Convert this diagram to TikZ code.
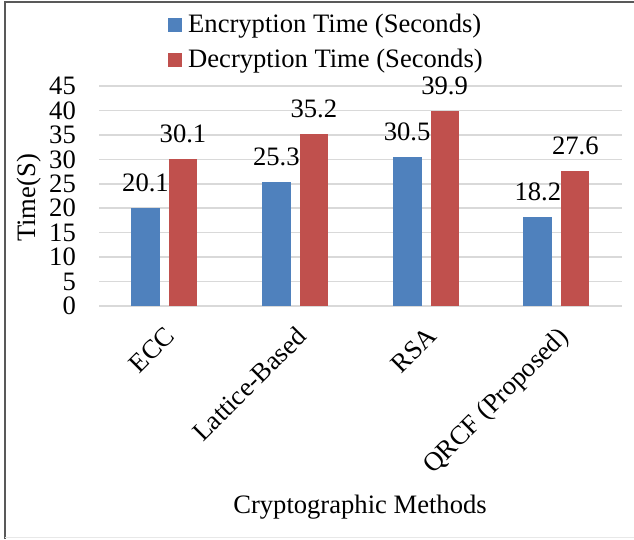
\documentclass[tikz,border=0pt]{standalone}
\usepackage{fontspec}
\setmainfont{Liberation Serif}
\definecolor{encblue}{HTML}{4F81BD}
\definecolor{decred}{HTML}{C0504D}
\definecolor{gridgray}{HTML}{D9D9D9}
\definecolor{framegray}{HTML}{595959}
\begin{document}
\begin{tikzpicture}[x=1pt,y=1pt,
    every node/.style={font=\fontsize{26.6}{31}\selectfont, inner sep=0pt},
    gridline/.style={draw=gridgray, line width=1.6pt},
    encbar/.style={fill=encblue},
    decbar/.style={fill=decred},
    ticklabel/.style={anchor=east},
    vallabel/.style={anchor=base},
    catlabel/.style={anchor=north east, rotate=45},
    legendkey/.style={minimum size=14pt, inner sep=0pt}]
  \useasboundingbox (0,0) rectangle (634,539);
  % outer frame
  \draw[framegray, line width=1.6pt] (5,0) -- (5,537) -- (634,537);
  \draw[gridgray!60, line width=1pt] (5,1.5) -- (634,1.5);
  % value axis: 0 at y=233, 4.889pt per second
  \def\yz{233}
  \def\ys{4.889}
  \foreach \v in {0,5,...,45} {
    \draw[gridline] (99,\yz+\v*\ys) -- (622,\yz+\v*\ys);
    \node[ticklabel] (tick\v) at (76,\yz+\v*\ys) {\v};
  }
  % bars and value labels
  \foreach \i/\e/\d/\name in {0/20.1/30.1/ECC, 1/25.3/35.2/Lattice-Based, 2/30.5/39.9/RSA, 3/18.2/27.6/QRCF (Proposed)} {
    \pgfmathsetmacro{\c}{164+130.8*\i}
    \fill[encbar] (\c-33,\yz) rectangle (\c-4,\yz+\e*\ys);
    \fill[decbar] (\c+5,\yz) rectangle (\c+33,\yz+\d*\ys);
    \node[vallabel] (enc\i) at (\c-18.5,\yz+\e*\ys+16.7) {\e};
    \node[vallabel] (dec\i) at (\c+19,\yz+\d*\ys+16.7) {\d};
    \node[catlabel] (cat\i) at (\c,214) {\name};
  }
  % axis titles
  \node[rotate=90] (ytitle) at (29,341) {Time(S)};
  \node[anchor=base] (xtitle) at (360,26) {Cryptographic Methods};
  % legend
  \node[legendkey, fill=encblue] (keyenc) at (175,514) {};
  \node[legendkey, fill=decred] (keydec) at (175,479) {};
  \node[anchor=base west] (legenc) at (188,506) {Encryption Time (Seconds)};
  \node[anchor=base west] (legdec) at (188,471) {Decryption Time (Seconds)};
\end{tikzpicture}
\end{document}
